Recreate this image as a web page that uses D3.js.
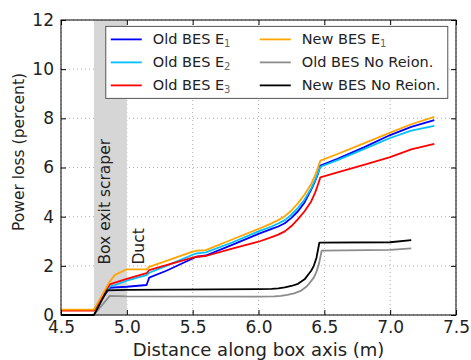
<!DOCTYPE html>
<html>
<head>
<meta charset="utf-8">
<script src="https://cdn.jsdelivr.net/npm/d3@7"></script>
<style>
  body { margin: 0; background: #fff; }
  svg { font-family: "DejaVu Sans", sans-serif; }
</style>
</head>
<body>
<div id="chart"></div>
<script>
// x positions shared by the four E curves
const xE = [4.5, 4.75, 4.87, 4.91, 5.0, 5.15, 5.17, 5.3, 5.5, 5.53, 5.6, 5.8, 6.0, 6.1, 6.15, 6.2, 6.25, 6.3, 6.35, 6.4, 6.43, 6.45, 6.47, 6.6, 6.8, 7.0, 7.16, 7.335];
const oldE1 = [0.2, 0.2, 1.1, 1.12, 1.15, 1.22, 1.52, 1.8, 2.3, 2.37, 2.42, 2.85, 3.3, 3.5, 3.6, 3.73, 3.95, 4.22, 4.58, 5.1, 5.45, 5.72, 6.08, 6.35, 6.82, 7.32, 7.65, 7.93];
const oldE2 = [0.2, 0.2, 1.15, 1.22, 1.4, 1.62, 1.72, 2.0, 2.45, 2.51, 2.55, 2.95, 3.4, 3.6, 3.72, 3.86, 4.08, 4.36, 4.7, 5.15, 5.5, 5.76, 6.03, 6.3, 6.75, 7.2, 7.5, 7.69];
const oldE3 = [0.18, 0.18, 1.25, 1.32, 1.47, 1.7, 1.83, 2.03, 2.33, 2.37, 2.4, 2.7, 2.98, 3.17, 3.27, 3.4, 3.62, 3.9, 4.22, 4.62, 4.98, 5.28, 5.6, 5.8, 6.11, 6.42, 6.74, 6.96];
const newE1 = [0.22, 0.22, 1.36, 1.63, 1.86, 1.86, 1.96, 2.2, 2.58, 2.62, 2.64, 3.07, 3.5, 3.73, 3.86, 4.02, 4.25, 4.55, 4.9, 5.33, 5.68, 5.98, 6.28, 6.55, 6.98, 7.42, 7.76, 8.06];

// no reionisation curves
const xOldNR = [4.5, 4.75, 4.87, 5.0, 6.0, 6.12, 6.17, 6.22, 6.27, 6.32, 6.37, 6.42, 6.44, 6.46, 6.48, 7.0, 7.16];
const oldNoReion = [0, 0, 0.78, 0.76, 0.75, 0.76, 0.78, 0.82, 0.88, 0.98, 1.18, 1.52, 1.75, 2.1, 2.62, 2.65, 2.71];
const xNewNR = [4.5, 4.75, 4.85, 5.0, 6.0, 6.1, 6.15, 6.2, 6.25, 6.3, 6.35, 6.4, 6.42, 6.44, 6.462, 7.0, 7.16];
const newNoReion = [0, 0, 1.0, 1.02, 1.05, 1.06, 1.08, 1.12, 1.18, 1.27, 1.45, 1.8, 2.0, 2.32, 2.94, 2.96, 3.05];

const xTicks = [4.5, 5.0, 5.5, 6.0, 6.5, 7.0, 7.5];
const yTicks = [0, 2, 4, 6, 8, 10, 12];

const series = [
  { name: "Old BES E", sub: "1", xs: xE, ys: oldE1, color: "#0000ff" },
  { name: "Old BES E", sub: "2", xs: xE, ys: oldE2, color: "#00bfff" },
  { name: "Old BES E", sub: "3", xs: xE, ys: oldE3, color: "#ff0000" },
  { name: "New BES E", sub: "1", xs: xE, ys: newE1, color: "#ffa500" },
  { name: "Old BES No Reion.", sub: "", xs: xOldNR, ys: oldNoReion, color: "#8c8c8c" },
  { name: "New BES No Reion.", sub: "", xs: xNewNR, ys: newNoReion, color: "#000000" }
];

const W = 471, H = 360;
const margin = { top: 20, right: 15, bottom: 45, left: 61 };
const width = W - margin.left - margin.right;
const height = H - margin.top - margin.bottom;

const svg = d3.select("#chart")
  .append("svg")
    .attr("width", W)
    .attr("height", H);

const g = svg.append("g")
  .attr("transform", `translate(${margin.left},${margin.top})`);

const x = d3.scaleLinear().domain([4.5, 7.5]).range([0, width]);
const y = d3.scaleLinear().domain([0, 12]).range([height, 0]);

// grid
g.append("g")
  .selectAll("line")
  .data(xTicks)
  .enter().append("line")
    .attr("x1", d => x(d)).attr("x2", d => x(d))
    .attr("y1", 0).attr("y2", height)
    .attr("stroke", "#b0b0b0").attr("stroke-width", 1)
    .attr("stroke-dasharray", "1,3");
g.append("g")
  .selectAll("line")
  .data(yTicks)
  .enter().append("line")
    .attr("x1", 0).attr("x2", width)
    .attr("y1", d => y(d)).attr("y2", d => y(d))
    .attr("stroke", "#b0b0b0").attr("stroke-width", 1)
    .attr("stroke-dasharray", "1,3");

// box exit scraper region
g.append("rect")
  .attr("x", x(4.75))
  .attr("y", 0)
  .attr("width", x(5.0) - x(4.75))
  .attr("height", height)
  .attr("fill", "#d6d6d6");

// annotations
g.append("text")
  .attr("transform", `translate(${x(4.75) + 16},${y(2.05)}) rotate(-90)`)
  .attr("font-size", 15.5)
  .attr("fill", "#222")
  .text("Box exit scraper");
g.append("text")
  .attr("transform", `translate(${x(5.0) + 17},${y(2.05)}) rotate(-90)`)
  .attr("font-size", 15.5)
  .attr("fill", "#222")
  .text("Duct");

// curves
const line = d3.line()
  .x(d => x(d[0]))
  .y(d => y(d[1]));

series.forEach(s => {
  g.append("path")
    .datum(s.xs.map((v, i) => [v, s.ys[i]]))
    .attr("fill", "none")
    .attr("stroke", s.color)
    .attr("stroke-width", 1.8)
    .attr("stroke-linejoin", "round")
    .attr("d", line);
});

// axes with inward ticks on all sides
function styleAxis(sel) {
  sel.select(".domain").remove();
  sel.selectAll(".tick line").attr("stroke", "#000");
  sel.selectAll("text").attr("fill", "#222").attr("font-size", 17)
    .attr("font-family", "DejaVu Sans, sans-serif");
}
g.append("g")
  .attr("transform", `translate(0,${height})`)
  .call(d3.axisBottom(x).tickValues(xTicks).tickFormat(d3.format(".1f")).tickSizeInner(-5).tickPadding(6))
  .call(styleAxis);
g.append("g")
  .call(d3.axisTop(x).tickValues(xTicks).tickSizeInner(-5).tickFormat(""))
  .call(styleAxis);
g.append("g")
  .call(d3.axisLeft(y).tickValues(yTicks).tickSizeInner(-5).tickPadding(7))
  .call(styleAxis);
g.append("g")
  .attr("transform", `translate(${width},0)`)
  .call(d3.axisRight(y).tickValues(yTicks).tickSizeInner(-5).tickFormat(""))
  .call(styleAxis);

g.append("rect")
  .attr("width", width).attr("height", height)
  .attr("fill", "none").attr("stroke", "#000").attr("stroke-width", 1);

// axis labels
svg.append("text")
  .attr("x", margin.left + width / 2)
  .attr("y", 356)
  .attr("text-anchor", "middle")
  .attr("font-size", 18)
  .attr("fill", "#222")
  .text("Distance along box axis (m)");
svg.append("text")
  .attr("transform", `translate(24,152) rotate(-90)`)
  .attr("text-anchor", "middle")
  .attr("font-size", 15.5)
  .attr("fill", "#222")
  .text("Power loss (percent)");

// legend
const legend = g.append("g").attr("transform", `translate(${x(4.84)},${y(11.74)})`);
legend.append("rect")
  .attr("width", 342).attr("height", 72)
  .attr("fill", "#fff").attr("stroke", "#555").attr("stroke-width", 1);
series.forEach((s, i) => {
  const col = Math.floor(i / 3), row = i % 3;
  const item = legend.append("g")
    .attr("transform", `translate(${5 + col * 149},${13 + row * 23})`);
  item.append("line")
    .attr("x1", 0).attr("x2", 31)
    .attr("stroke", s.color).attr("stroke-width", 1.8);
  const t = item.append("text")
    .attr("x", 42).attr("y", 5)
    .attr("font-size", 14.5)
    .attr("fill", "#222")
    .text(s.name);
  if (s.sub) {
    t.append("tspan")
      .attr("dy", 3)
      .attr("font-size", 10)
      .attr("fill", "#666")
      .text(s.sub);
  }
});
</script>
</body>
</html>
